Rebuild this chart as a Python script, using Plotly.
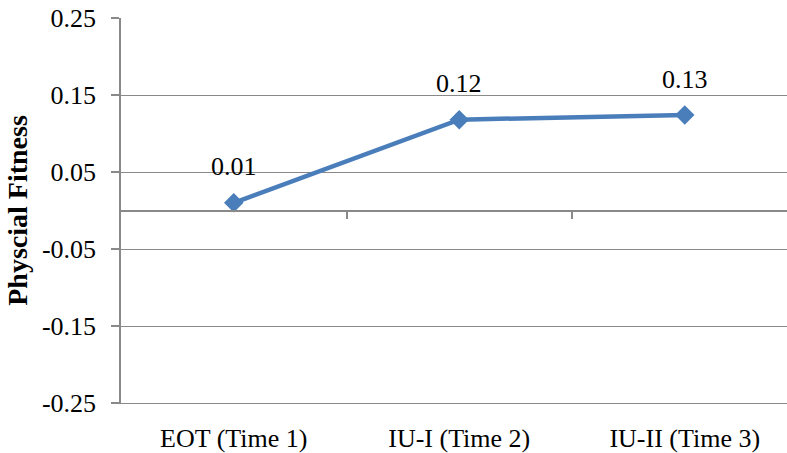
import plotly.graph_objects as go

categories = ["EOT (Time 1)", "IU-I (Time 2)", "IU-II (Time 3)"]
values = [0.010, 0.118, 0.124]
labels = ["0.01", "0.12", "0.13"]
y_ticks = [-0.25, -0.15, -0.05, 0.05, 0.15, 0.25]
y_ticktext = ["-0.25", "-0.15", "-0.05", "0.05", "0.15", "0.25"]

grey = "#898989"
blue = "#4A7EBB"
font = "Liberation Serif"
fs = 26

fig = go.Figure()
fig.add_trace(go.Scatter(
    x=[0, 1, 2], y=values, mode="lines+markers",
    line=dict(color=blue, width=4.5),
    marker=dict(symbol="diamond", size=15, color=blue),
    hoverinfo="skip", showlegend=False, cliponaxis=False,
))
# invisible trace for the zero-line axis with tick marks
fig.add_trace(go.Scatter(x=[0], y=[0], xaxis="x2", mode="markers",
                         marker=dict(opacity=0), showlegend=False, hoverinfo="skip"))

for i, (v, t) in enumerate(zip(values, labels)):
    fig.add_annotation(x=i, y=v, text=t, showarrow=False, yshift=36,
                       font=dict(family=font, size=fs, color="black"))

xr = [-0.5, 2.4534]
fig.update_layout(
    width=787, height=453,
    margin=dict(l=121, r=0, t=18, b=46),
    paper_bgcolor="white", plot_bgcolor="white",
    font=dict(family=font, size=fs, color="black"),
    xaxis=dict(range=xr, tickvals=[0, 1, 2], ticktext=categories,
               showgrid=False, zeroline=False, showline=True, linecolor=grey,
               linewidth=1, ticks="", ticklabelstandoff=12,
               tickfont=dict(family=font, size=fs, color="black")),
    xaxis2=dict(range=xr, overlaying="x", anchor="free", position=0.5,
                showline=True, linecolor=grey, linewidth=1.5,
                tickvals=[0.5, 1.5, 2.5], ticks="outside", ticklen=8,
                tickcolor=grey, tickwidth=1.5, showticklabels=False,
                showgrid=False, zeroline=False),
    yaxis=dict(range=[-0.25, 0.25], tickvals=y_ticks, ticktext=y_ticktext,
               showgrid=True, gridcolor=grey, gridwidth=1.2, zeroline=False,
               showline=True, linecolor=grey, linewidth=1.5,
               ticks="outside", ticklen=8, tickcolor=grey, tickwidth=1.5,
               ticklabelstandoff=10,
               tickfont=dict(family=font, size=fs, color="black"),
               title=dict(text="<b>Physcial Fitness</b>", standoff=6,
                          font=dict(family=font, size=28, color="black"))),
)

fig.write_html("out.html")
